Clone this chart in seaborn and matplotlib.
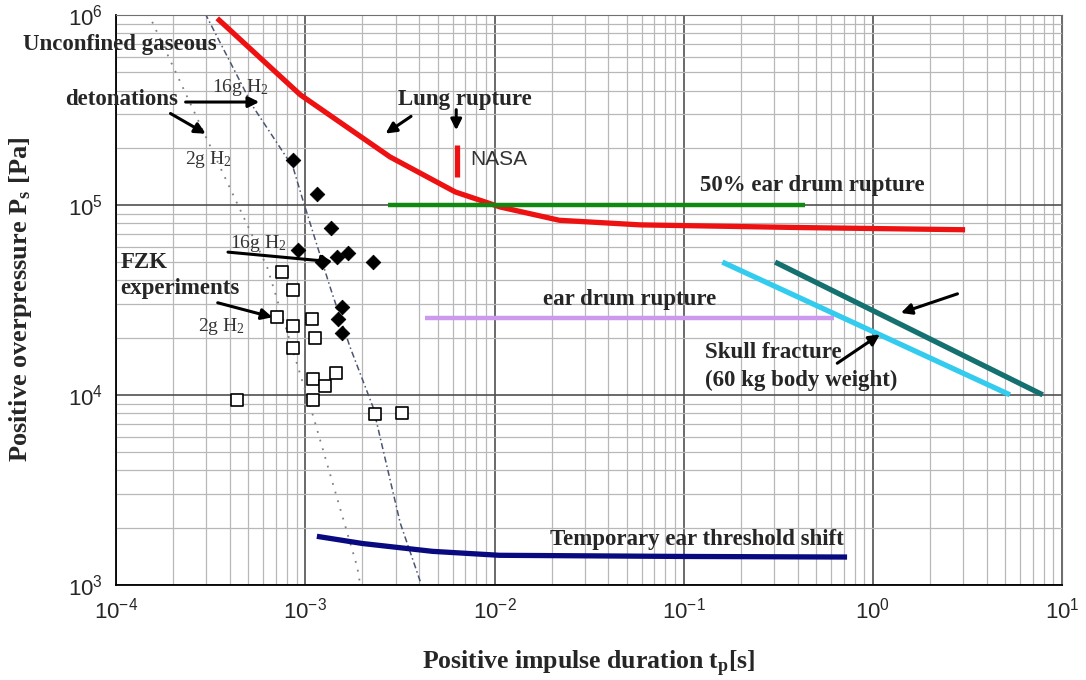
#%%
import numpy as np
import pandas as pd
import matplotlib.pyplot as plt
import seaborn as sns
from matplotlib.ticker import LogLocator, NullFormatter

#%% data (t in s, P in Pa)
lung_t = [3.42e-4, 9.4e-4, 2.8e-3, 6.2e-3, 1.07e-2, 2.2e-2, 5.9e-2, 0.41, 3.07]
lung_p = [9.6e5, 3.8e5, 1.79e5, 1.17e5, 9.75e4, 8.3e4, 7.85e4, 7.6e4, 7.4e4]

nasa_t = [6.3e-3, 6.3e-3]
nasa_p = [2.07e5, 1.4e5]

ear50_t = [2.74e-3, 0.44]
ear50_p = [1.0e5, 1.0e5]

ear_t = [4.3e-3, 0.62]
ear_p = [2.54e4, 2.54e4]

skull_lo_t = [0.16, 5.3]
skull_lo_p = [5.0e4, 1.0e4]
skull_hi_t = [0.304, 7.9]
skull_hi_p = [5.0e4, 1.0e4]

tts_t = [1.15e-3, 2e-3, 4.7e-3, 1.06e-2, 0.1, 0.73]
tts_p = [1.8e3, 1.65e3, 1.5e3, 1.43e3, 1.41e3, 1.4e3]

det2_t = [1.55e-4, 3.03e-4, 6.28e-4, 1.1e-3, 1.88e-3, 1.95e-3]
det2_p = [9.2e5, 2.2e5, 4.7e4, 7.7e3, 1.24e3, 1.0e3]

det16_t = [2.95e-4, 5.3e-4, 8.6e-4, 9.7e-4, 1.35e-3, 1.72e-3, 2.28e-3, 3.17e-3, 4.05e-3]
det16_p = [1.02e6, 3.28e5, 1.58e5, 1.06e5, 3.7e4, 1.79e4, 8.6e3, 2.12e3, 1.04e3]

fzk16_t = [8.62e-4, 1.15e-3, 1.37e-3, 9.17e-4, 1.23e-3, 1.47e-3, 1.68e-3, 2.28e-3, 1.56e-3, 1.49e-3, 1.56e-3]
fzk16_p = [1.73e5, 1.14e5, 7.57e4, 5.8e4, 5.0e4, 5.33e4, 5.59e4, 5.0e4, 2.9e4, 2.51e4, 2.12e4]

fzk2_t = [7.54e-4, 8.62e-4, 7.1e-4, 8.62e-4, 8.62e-4, 1.09e-3, 1.13e-3, 1.1e-3, 1.27e-3, 1.46e-3,
          4.36e-4, 1.1e-3, 2.34e-3, 3.25e-3]
fzk2_p = [4.44e4, 3.57e4, 2.58e4, 2.31e4, 1.77e4, 2.51e4, 2.0e4, 1.21e4, 1.11e4, 1.31e4,
          9.4e3, 9.4e3, 7.95e3, 8.0e3]

#%% style
sns.set_style("whitegrid")
plt.rcParams['font.family'] = ['Liberation Serif', 'DejaVu Serif']
plt.rcParams['mathtext.fontset'] = 'custom'
plt.rcParams['mathtext.rm'] = 'Liberation Serif'
plt.rcParams['mathtext.it'] = 'Liberation Serif:italic'
plt.rcParams['mathtext.bf'] = 'Liberation Serif:bold'

fig, ax = plt.subplots(figsize=(10.86, 6.8), dpi=100)
fig.subplots_adjust(left=0.107, right=0.978, top=0.978, bottom=0.14)
ax.set_xscale('log')
ax.set_yscale('log')

def line(t, p, **kw):
    d = pd.DataFrame({'t': t, 'p': p})
    sns.lineplot(data=d, x='t', y='p', sort=False, estimator=None, ax=ax, **kw)

# detonation curves
line(det2_t, det2_p, color='#808080', lw=1.3, linestyle=(0, (1, 4)))
line(det16_t, det16_p, color='#4a5570', lw=1.1, linestyle=(0, (4, 2, 1, 2)))

# criteria
line(lung_t, lung_p, color='#ee1111', lw=3.8, solid_capstyle='butt')
line(nasa_t, nasa_p, color='#ee1111', lw=3.8, solid_capstyle='butt')
line(ear50_t, ear50_p, color='#118811', lw=3.2, solid_capstyle='butt')
line(ear_t, ear_p, color='#cc99ee', lw=3.2, solid_capstyle='butt')
line(skull_lo_t, skull_lo_p, color='#33ccee', lw=3.8, solid_capstyle='butt')
line(skull_hi_t, skull_hi_p, color='#157070', lw=3.8, solid_capstyle='butt')
line(tts_t, tts_p, color='#0a0a80', lw=3.8, solid_capstyle='butt')

# FZK experiments
sns.scatterplot(x=fzk16_t, y=fzk16_p, marker='D', s=55, color='black', edgecolor='black', ax=ax, zorder=5)
sns.scatterplot(x=fzk2_t, y=fzk2_p, marker='s', s=80, facecolor='white', edgecolor='black',
                linewidth=1.2, ax=ax, zorder=5)

#%% axes
ax.set_xlim(1e-4, 1e1)
ax.set_ylim(1e3, 1e6)
ax.xaxis.set_minor_locator(LogLocator(base=10, subs=np.arange(2, 10), numticks=50))
ax.yaxis.set_minor_locator(LogLocator(base=10, subs=np.arange(2, 10), numticks=50))
ax.xaxis.set_minor_formatter(NullFormatter())
ax.yaxis.set_minor_formatter(NullFormatter())
ax.grid(True, which='major', color='#505050', lw=1.2)
ax.grid(True, which='minor', color='#b8b8b8', lw=0.9)
ax.set_axisbelow(True)
ax.tick_params(which='major', length=6, direction='out', color='black', labelsize=16,
               labelfontfamily='Liberation Sans')
ax.tick_params(which='minor', length=0)
for s in ['left', 'bottom']:
    ax.spines[s].set_color('black')
    ax.spines[s].set_linewidth(1.3)
for s in ['top', 'right']:
    ax.spines[s].set_color('#707070')

ax.set_xlabel(r'Positive impulse duration $\mathbf{t_p}$[s]', fontsize=18.5, fontweight='bold')
ax.set_ylabel(r'Positive overpressure $\mathbf{P_s}$ [Pa]', fontsize=19, fontweight='bold')
ax.xaxis.set_label_coords(0.5, -0.112)
ax.yaxis.set_label_coords(-0.087, 0.5)

#%% annotations
big = dict(fontsize=16.5, fontweight='bold', va='center', ha='left')
small = dict(fontsize=14, va='center', ha='left', color='#333333')
arw = dict(arrowstyle='-|>', color='black', lw=2.2, mutation_scale=16)

ax.text(3.2e-5, 6.95e5, 'Unconfined gaseous', **big)
ax.text(5.37e-5, 3.57e5, 'detonations', **big)
ax.text(3.21e-4, 4.13e5, '16g H$_2$', **small)
ax.text(2.32e-4, 1.73e5, '2g H$_2$', **small)
ax.annotate('', xy=(5.9e-4, 3.48e5), xytext=(2.25e-4, 3.48e5), arrowprops=arw)
ax.annotate('', xy=(3.06e-4, 2.33e5), xytext=(1.88e-4, 3.08e5), arrowprops=arw)

ax.text(3.09e-3, 3.57e5, 'Lung rupture', **big)
ax.annotate('', xy=(2.58e-3, 2.33e5), xytext=(3.72e-3, 2.98e5), arrowprops=arw)
ax.annotate('', xy=(6.27e-3, 2.39e5), xytext=(6.27e-3, 3.28e5), arrowprops=arw)
ax.text(7.43e-3, 1.73e5, 'NASA', fontsize=15, va='center', ha='left', color='#333333',
        family=['Liberation Sans', 'DejaVu Sans'])

ax.text(0.122, 1.26e5, '50% ear drum rupture', **big)
ax.text(0.0181, 3.16e4, 'ear drum rupture', **big)
ax.text(0.13, 1.68e4, 'Skull fracture', **big)
ax.text(0.13, 1.19e4, '(60 kg body weight)', **big)
ax.annotate('', xy=(1.12, 2.12e4), xytext=(0.63, 1.44e4), arrowprops=arw)
ax.annotate('', xy=(1.36, 2.67e4), xytext=(2.89, 3.44e4), arrowprops=arw)
ax.text(0.0197, 1.73e3, 'Temporary ear threshold shift', **big)

ax.text(1.05e-4, 5.0e4, 'FZK', **big)
ax.text(1.05e-4, 3.61e4, 'experiments', **big)
ax.text(4.0e-4, 6.3e4, '16g H$_2$', **small)
ax.text(2.71e-4, 2.28e4, '2g H$_2$', **small)
ax.annotate('', xy=(1.44e-3, 5.0e4), xytext=(3.77e-4, 5.66e4), arrowprops=arw)
ax.annotate('', xy=(6.92e-4, 2.54e4), xytext=(3.33e-4, 3.08e4), arrowprops=arw)

plt.savefig('out.png', dpi=100)
